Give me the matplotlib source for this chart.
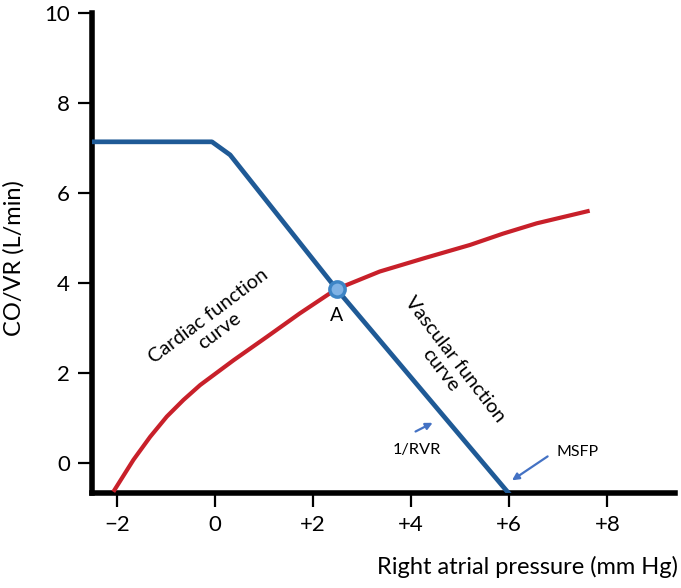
import matplotlib
matplotlib.use("Agg")
import matplotlib.pyplot as plt

plt.rcParams["font.family"] = ["Lato", "DejaVu Sans"]

# Vascular function curve (venous return), blue
vascular_x = [-2.505, -0.06, 0.31, 2.48, 5.98]
vascular_y = [7.14, 7.14, 6.85, 3.87, -0.65]

# Cardiac function curve (cardiac output), red
cardiac_x = [-2.07, -1.66, -1.32, -0.98, -0.64, -0.30, 0.38, 1.06, 1.73, 2.35,
             2.48, 3.36, 4.28, 5.20, 5.87, 6.56, 7.64]
cardiac_y = [-0.63, 0.08, 0.59, 1.04, 1.41, 1.74, 2.29, 2.81, 3.33, 3.78,
             3.87, 4.26, 4.56, 4.85, 5.10, 5.33, 5.61]

# Equilibrium point A
point_a = (2.48, 3.87)

x_ticks = [-2, 0, 2, 4, 6, 8]
x_tick_labels = ["\u22122", "0", "+2", "+4", "+6", "+8"]
y_ticks = [0, 2, 4, 6, 8, 10]

fig = plt.figure(figsize=(6.81, 5.88), dpi=100)
ax = fig.add_axes([0.1351, 0.1621, 0.8561, 0.8158])

ax.plot(cardiac_x, cardiac_y, color="#c8202a", lw=3.0, solid_capstyle="butt",
        solid_joinstyle="round", zorder=3)
ax.plot(vascular_x, vascular_y, color="#1f5a96", lw=3.4, solid_joinstyle="round", zorder=3)
ax.plot(*point_a, "o", ms=11, mfc="#7fb2e5", mec="#3d85c6", mew=2.5, zorder=5, clip_on=False)

ax.set_xlim(-2.505, 9.38)
ax.set_ylim(-0.65, 10)
ax.set_xticks(x_ticks)
ax.set_xticklabels(x_tick_labels)
ax.set_yticks(y_ticks)

for side in ["top", "right"]:
    ax.spines[side].set_visible(False)
for side in ["left", "bottom"]:
    ax.spines[side].set_linewidth(4)
    ax.spines[side].set_color("black")
ax.tick_params(direction="out", length=10, width=1.6, labelsize=16, pad=6)

ax.set_ylabel("CO/VR (L/min)", fontsize=17, va="center")
ax.yaxis.set_label_coords(-0.134, 0.489)
ax.set_xlabel("Right atrial pressure (mm Hg)", fontsize=17, ha="right", va="center")
ax.xaxis.set_label_coords(1.005, -0.155)

# Annotations
ax.text(point_a[0], 3.29, "A", fontsize=14, ha="center", va="center")
ax.text(-0.02, 3.10, "Cardiac function\ncurve", fontsize=14.4, rotation=37,
        ha="center", va="center", multialignment="center", rotation_mode="anchor",
        linespacing=1.1)
ax.text(4.75, 2.19, "Vascular function\ncurve", fontsize=14.4, rotation=-52.5,
        ha="center", va="center", multialignment="center", rotation_mode="anchor",
        linespacing=1.1)

arrow_color = "#4472c4"
ax.annotate("", xy=(4.49, 0.93), xytext=(4.04, 0.68),
            arrowprops=dict(arrowstyle="-|>", color=arrow_color, lw=1.6, mutation_scale=10))
ax.text(4.11, 0.30, "1/RVR", fontsize=11.8, ha="center", va="center")
ax.annotate("", xy=(6.01, -0.41), xytext=(6.83, 0.19),
            arrowprops=dict(arrowstyle="-|>", color=arrow_color, lw=1.6, mutation_scale=10))
ax.text(7.40, 0.26, "MSFP", fontsize=11.5, ha="center", va="center")

fig.savefig("out.png", dpi=100)
